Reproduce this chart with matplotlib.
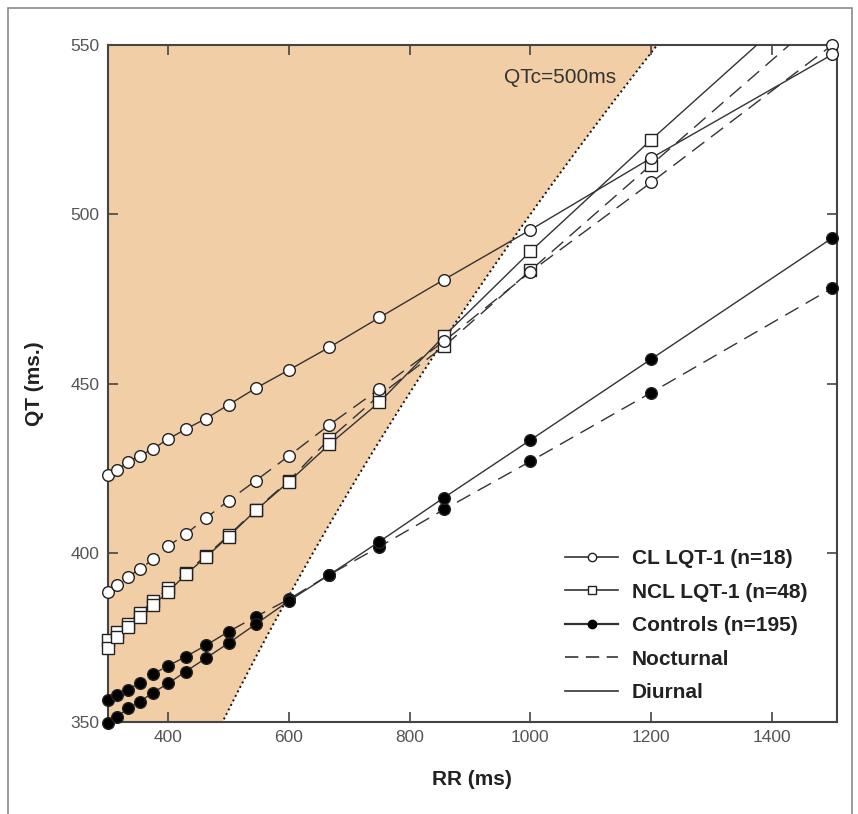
import numpy as np
import matplotlib
matplotlib.use("Agg")
import matplotlib.pyplot as plt
from matplotlib.lines import Line2D
from matplotlib.patches import Rectangle

plt.rcParams['font.family'] = ['Liberation Sans', 'DejaVu Sans']

# ---- data ----
rr = [300, 316, 333, 353, 375, 400, 429, 462, 500, 545, 600, 667, 750, 857, 1000, 1200, 1500]

cl_diurnal = [423.0, 424.5, 426.8, 428.6, 430.7, 433.6, 436.5, 439.6, 443.7, 448.6,
              454.0, 460.7, 469.5, 480.7, 495.4, 516.6, 547.2]
cl_nocturnal = [388.5, 390.5, 392.9, 395.1, 398.1, 402.0, 405.5, 410.2, 415.4, 421.3,
                428.6, 437.8, 448.4, 462.5, 483.0, 509.4, 550.0]
ncl_diurnal = [371.8, 375.0, 378.0, 381.0, 384.6, 388.4, 393.6, 398.6, 404.8, 412.5,
               421.0, 432.0, 444.5, 464.0, 489.0, 522.0, 570.0]
ncl_nocturnal = [374.2, 376.5, 379.0, 382.3, 385.6, 389.5, 394.1, 399.0, 405.1, 412.7,
                 421.3, 433.6, 446.5, 461.0, 483.4, 514.6, 561.0]
ctl_diurnal = [349.8, 351.6, 354.0, 356.0, 358.7, 361.4, 364.9, 368.8, 373.3, 378.9,
               385.8, 393.5, 403.3, 416.3, 433.3, 457.2, 493.0]
ctl_nocturnal = [356.5, 358.0, 359.5, 361.6, 364.2, 366.6, 369.3, 372.6, 376.7, 381.1,
                 386.3, 393.5, 401.8, 412.8, 427.0, 447.3, 478.2]

qtc_limit = 500  # ms, Bazett
xticks = [400, 600, 800, 1000, 1200, 1400]
yticks = [350, 400, 450, 500, 550]
legend_labels = ["CL LQT-1 (n=18)", "NCL LQT-1 (n=48)", "Controls (n=195)", "Nocturnal", "Diurnal"]

# ---- figure ----
W, H = 858, 814
fig = plt.figure(figsize=(W / 100, H / 100), dpi=100)
fig.patch.set_facecolor('white')

# outer frame
fig.patches.append(Rectangle((8 / W, -0.01), (852 - 8) / W, (H - 8) / H + 0.01,
                             transform=fig.transFigure, fill=False,
                             edgecolor='#8a8a8a', linewidth=1.2))

L, R, T, B = 107.8, 836.5, 45, 722
ax = fig.add_axes([L / W, 1 - B / H, (R - L) / W, (B - T) / H])
ax.set_xlim(300, 1507)
ax.set_ylim(350, 550)

# QTc = 500 ms shaded region
grid = np.linspace(300, 1507, 400)
curve = qtc_limit * np.sqrt(grid / 1000.0)
ax.fill_between(grid, curve, 560, color='#f1cea6', linewidth=0, zorder=0)
ax.plot(grid, curve, color='#111111', linestyle=(0, (1, 1.6)), linewidth=1.4, zorder=1)
ax.text(1049, 540.5, "QTc=500ms", fontsize=15, color='#333333',
        ha='center', va='center', zorder=2)

line_color = '#333333'
edge = '#222222'
dash = (0, (11, 6))
ms = 8.4
ymin, ymax = ax.get_ylim()

def series(y, marker, face, ls):
    ax.plot(rr, y, color=line_color, linewidth=1.0, linestyle=ls, zorder=3)
    xs = np.asarray(rr, float)
    ys = np.asarray(y, float)
    keep = (ys >= ymin - 0.5) & (ys <= ymax + 0.5)
    ax.plot(xs[keep], ys[keep], linestyle='none',
            marker=marker, markersize=ms, markerfacecolor=face,
            markeredgecolor=edge, markeredgewidth=1.0, zorder=4, clip_on=False)

series(ncl_nocturnal, 's', 'white', dash)
series(ncl_diurnal, 's', 'white', '-')
series(cl_nocturnal, 'o', 'white', dash)
series(cl_diurnal, 'o', 'white', '-')
series(ctl_nocturnal, 'o', 'black', dash)
series(ctl_diurnal, 'o', 'black', '-')

# axes styling
for s in ax.spines.values():
    s.set_color('#444444')
    s.set_linewidth(1.5)
ax.set_xticks(xticks)
ax.set_yticks(yticks)
ax.tick_params(direction='in', length=7, width=1.2, color='#444444',
               top=True, right=True, labelsize=12.5, labelcolor='#555555', pad=6)

ax.set_xlabel("RR (ms)", fontsize=15, fontweight='bold', color='#222222', labelpad=18)
ax.set_ylabel("QT (ms.)", fontsize=15, fontweight='bold', color='#222222', labelpad=19)

# legend
handles = [
    Line2D([], [], color=line_color, lw=1.2, marker='o', markersize=6,
           markerfacecolor='white', markeredgecolor=edge),
    Line2D([], [], color=line_color, lw=1.2, marker='s', markersize=6,
           markerfacecolor='white', markeredgecolor=edge),
    Line2D([], [], color=line_color, lw=1.6, marker='o', markersize=6,
           markerfacecolor='black', markeredgecolor='black'),
    Line2D([], [], color=line_color, lw=1.2, linestyle=(0, (8, 4.5))),
    Line2D([], [], color=line_color, lw=1.2, linestyle='-'),
]
leg = ax.legend(handles, legend_labels, loc='upper left',
                bbox_to_anchor=(565 / W, 1 - 549 / H), bbox_transform=fig.transFigure,
                frameon=False, borderpad=0, borderaxespad=0,
                handlelength=2.55, handletextpad=0.65, labelspacing=0.7,
                prop={'size': 15, 'weight': 'bold'})
for t in leg.get_texts():
    t.set_color('#222222')

fig.savefig("out.png", dpi=100, facecolor='white')
